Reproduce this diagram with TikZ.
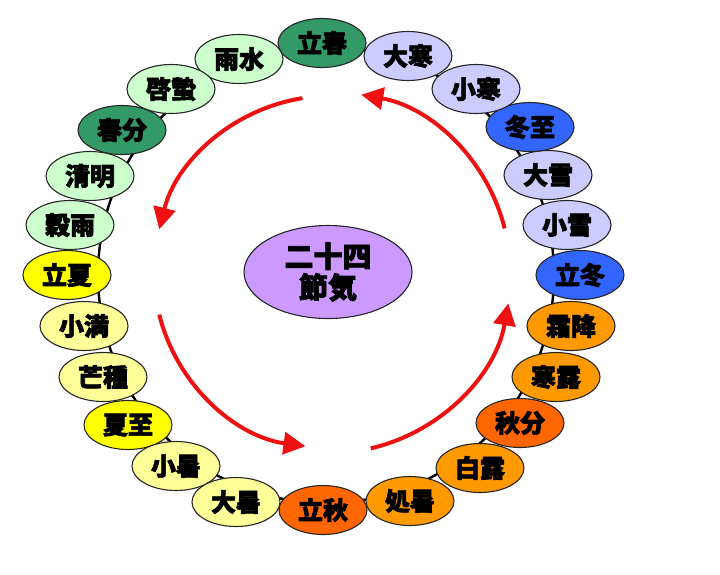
\documentclass[tikz,border=0pt]{standalone}
\usepackage{fontspec}
\newfontfamily\cjk{Noto Sans CJK JP}[BoldFeatures={FakeBold=2.5}]
\usetikzlibrary{shapes.geometric,arrows.meta}
\definecolor{dgreen}{HTML}{339966}
\definecolor{lgreen}{HTML}{CCFFCC}
\definecolor{yel}{HTML}{FFFF00}
\definecolor{lyel}{HTML}{FFFF99}
\definecolor{dorange}{HTML}{FF6600}
\definecolor{orng}{HTML}{FF9900}
\definecolor{dblue}{HTML}{3366FF}
\definecolor{lblue}{HTML}{CCCCFF}
\definecolor{lpurple}{HTML}{CC99FF}
\definecolor{redarr}{HTML}{EE1111}
\tikzset{
  term/.style={ellipse, draw=black!85, line width=1.1pt, minimum width=88pt, minimum height=49pt, inner sep=0pt, font=\cjk\bfseries\fontsize{25}{25}\selectfont},
  hub/.style={ellipse, draw=black!85, line width=1.1pt, fill=lpurple, minimum width=168pt, minimum height=93pt, inner sep=0pt, align=center, font=\cjk\bfseries\fontsize{29}{31}\selectfont},
  ring/.style={draw=black, line width=2.4pt},
  flow/.style={draw=redarr, line width=4pt, -{Triangle[length=22pt,width=22pt]}}
}
\begin{document}
\begin{tikzpicture}[x=1pt,y=-1pt]
\useasboundingbox (0,0) rectangle (720,574);
\coordinate (ringc) at (326,275);
\coordinate (flowc) at (330,272);
\draw[ring] (ringc) circle[radius=228];
% spring
\node[term, fill=dgreen] (risshun) at (322,43) {立春};
\node[term, fill=lgreen] (usui) at (239,59) {雨水};
\node[term, fill=lgreen] (keichitsu) at (171,89) {啓蟄};
\node[term, fill=dgreen] (shunbun) at (122,130) {春分};
\node[term, fill=lgreen] (seimei) at (90,176) {清明};
\node[term, fill=lgreen] (kokuu) at (70,225) {穀雨};
% summer
\node[term, fill=yel] (rikka) at (67,275) {立夏};
\node[term, fill=lyel] (shoman) at (84,326) {小満};
\node[term, fill=lyel] (boshu) at (103,377) {芒種};
\node[term, fill=yel] (geshi) at (128,425) {夏至};
\node[term, fill=lyel] (shosho) at (176,466) {小暑};
\node[term, fill=lyel] (taisho) at (236,502) {大暑};
% autumn
\node[term, fill=dorange] (risshu) at (323,510) {立秋};
\node[term, fill=orng] (shosho2) at (410,501) {処暑};
\node[term, fill=orng] (hakuro) at (480,468) {白露};
\node[term, fill=dorange] (shubun) at (520,423) {秋分};
\node[term, fill=orng] (kanro) at (556,377) {寒露};
\node[term, fill=orng] (soko) at (571,326) {霜降};
% winter
\node[term, fill=dblue] (ritto) at (580,275) {立冬};
\node[term, fill=lblue] (shosetsu) at (567,225) {小雪};
\node[term, fill=lblue] (taisetsu) at (548,175) {大雪};
\node[term, fill=dblue] (toji) at (530,127) {冬至};
\node[term, fill=lblue] (shokan) at (476,89) {小寒};
\node[term, fill=lblue] (daikan) at (408,56) {大寒};
% centre
\node[hub] (hub) at (328,272) {二十四\\節気};
% red arrows
\draw[flow] ([shift={(-99:176)}]flowc) arc[start angle=-99, end angle=-166, radius=176];
\draw[flow] ([shift={(-194:176)}]flowc) arc[start angle=-194, end angle=-262, radius=176];
\draw[flow] ([shift={(-283:181)}]flowc) arc[start angle=-283, end angle=-350, radius=181];
\draw[flow] ([shift={(-14:180)}]flowc) arc[start angle=-14, end angle=-80, radius=180];
\end{tikzpicture}
\end{document}
